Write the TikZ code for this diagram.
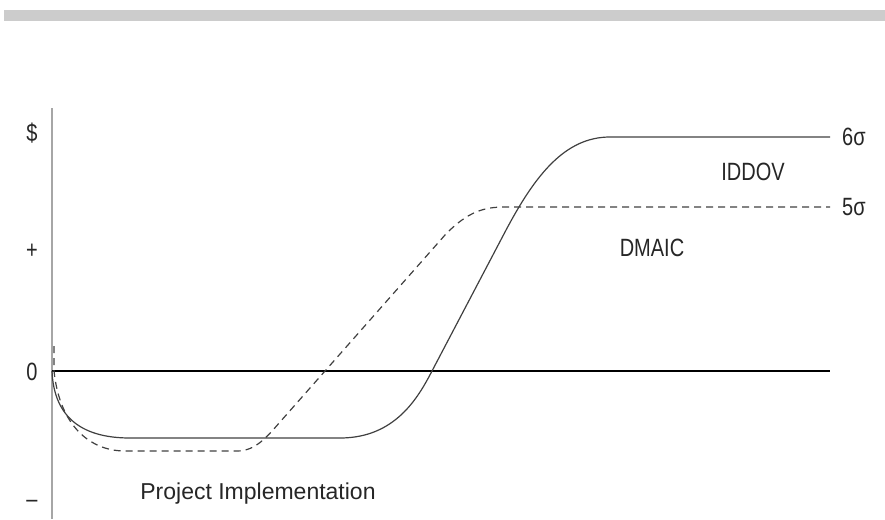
\documentclass[tikz,border=0pt]{standalone}
\usepackage{fontspec}
\setmainfont[FakeStretch=0.8]{Liberation Sans}
\newfontfamily\widefont{Liberation Sans}
\usepackage{tikz}

\tikzset{
  lbl/.style={inner sep=0pt, font=\fontsize{25}{27}\selectfont, text=black!85},
  curve/.style={line width=1.2pt, draw=black!75},
}

\begin{document}
\begin{tikzpicture}[x=1pt, y=-1pt]
    \useasboundingbox (0,0) rectangle (885,519) ;
\fill[black!20] (4,10) rectangle (885,21) ; % TopBar
\coordinate (AxTop) at (52,108) ; % Axis.0
\coordinate (AxBot) at (52,519) ; % Axis.1
\coordinate (ZeroL) at (52,371) ; % Zero.0
\coordinate (ZeroR) at (830,371) ; % Zero.1
\draw[line width=2pt, black!35] (AxTop) -- (AxBot) ; % Axis
\draw[line width=1.3pt] (ZeroL) -- (ZeroR) ; % Zero
\node[lbl] (Dollar) at (32,133) {\$} ; % Dollar
\node[lbl] (Plus) at (32,251) {+} ; % Plus
\node[lbl] (Nought) at (32,372) {0} ; % Nought
\node[lbl] (Minus) at (32,504) {–} ; % Minus
\draw[curve] (ZeroL) .. controls (54,420) and (85,438) .. (130,438)
    -- (340,438) .. controls (395,438) and (418,398) .. (432,371)
    -- (505,232) .. controls (535,175) and (565,137) .. (610,137)
    -- (830,137) coordinate (SixEnd) ; % IDDOV
\draw[curve, dash pattern=on 7pt off 5pt] (54,346) -- (54,371)
    .. controls (60,428) and (92,451) .. (125,451)
    -- (237,451) .. controls (255,451) and (266,438) .. (280,422)
    -- (445,235) .. controls (468,211) and (485,207) .. (505,207)
    -- (830,207) coordinate (FiveEnd) ; % DMAIC
\node[lbl, anchor=west] (Six) at ([xshift=12pt]SixEnd) {6σ} ; % Six
\node[lbl, anchor=west] (Five) at ([xshift=12pt]FiveEnd) {5σ} ; % Five
\node[lbl] (Iddov) at (753,172) {IDDOV} ; % Iddov
\node[lbl] (Dmaic) at (652,248) {DMAIC} ; % Dmaic
\node[lbl, font=\widefont\fontsize{23}{25}\selectfont] (Proj) at (258,494) {Project Implementation} ; % Proj
    \end{tikzpicture}
\end{document}
